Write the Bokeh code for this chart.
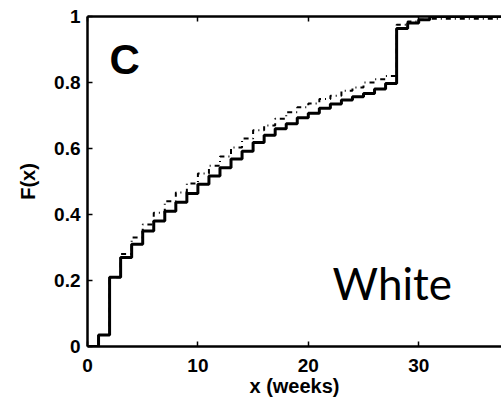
from bokeh.plotting import figure
from bokeh.models import LinearAxis, FixedTicker, Range1d, Label
from bokeh.embed import file_html
from bokeh.resources import INLINE

weeks = list(range(0, 39))
cdf_solid = [0.0, 0.035, 0.21, 0.27, 0.31, 0.35, 0.38, 0.41, 0.437, 0.464,
             0.492, 0.517, 0.542, 0.568, 0.592, 0.618, 0.64, 0.66, 0.675, 0.693,
             0.707, 0.722, 0.735, 0.747, 0.757, 0.767, 0.78, 0.797, 0.964, 0.98,
             0.99, 1.0, 1.0, 1.0, 1.0, 1.0, 1.0, 1.0, 1.0]
cdf_dashed = [0.0, 0.035, 0.21, 0.28, 0.33, 0.37, 0.405, 0.44, 0.467, 0.494,
              0.524, 0.548, 0.576, 0.603, 0.63, 0.655, 0.67, 0.69, 0.71, 0.725,
              0.736, 0.75, 0.76, 0.775, 0.785, 0.80, 0.81, 0.82, 0.975, 0.985,
              0.99, 0.993, 0.993, 0.993, 0.993, 0.993, 0.993, 0.993, 0.993]
x_ticks = [0, 10, 20, 30]
x_tick_labels = ["0", "10", "20", "30"]
y_ticks = [0, 0.2, 0.4, 0.6, 0.8, 1]
y_tick_labels = ["0", "0.2", "0.4", "0.6", "0.8", "1"]

FONT = "Liberation Sans"

p = figure(width=501, height=404, output_backend="svg", toolbar_location=None,
           x_axis_location=None, y_axis_location=None,
           min_border_left=87, min_border_right=0, min_border_top=16,
           min_border_bottom=58)
p.x_range = Range1d(0, 37.5)
p.y_range = Range1d(0, 1)
p.outline_line_color = None
p.xgrid.visible = False
p.ygrid.visible = False
p.background_fill_color = "white"
p.border_fill_color = "white"

def style(ax, ticks, labels, show_labels=True):
    ax.ticker = FixedTicker(ticks=ticks)
    ax.major_label_overrides = {t: l for t, l in zip(ticks, labels)}
    ax.axis_line_width = 2.5
    ax.axis_line_color = "black"
    ax.major_tick_in = 5
    ax.major_tick_out = 0
    ax.major_tick_line_width = 1.5
    ax.minor_tick_line_color = None
    ax.major_label_text_font = FONT
    ax.major_label_text_font_style = "bold"
    ax.major_label_text_font_size = "19px"
    ax.major_label_text_color = "black" if show_labels else None
    ax.axis_label_text_font = FONT
    ax.axis_label_text_font_style = "bold"
    ax.axis_label_text_font_size = "20px"
    ax.axis_label_text_color = "black"

xb = LinearAxis(axis_label="x (weeks)")
style(xb, x_ticks, x_tick_labels)
xb.major_label_standoff = 12
xb.axis_label_standoff = 0
p.add_layout(xb, "below")

xt = LinearAxis()
style(xt, x_ticks, x_tick_labels, show_labels=False)
xt.major_label_standoff = 0
p.add_layout(xt, "above")

yl = LinearAxis(axis_label="F(x)")
style(yl, y_ticks, y_tick_labels)
yl.major_label_standoff = 7
yl.axis_label_standoff = 12
p.add_layout(yl, "left")

p.step(weeks, cdf_dashed, mode="after", line_color="black", line_width=2,
       line_dash="5 4 1 4")
p.step(weeks, cdf_solid, mode="after", line_color="black", line_width=3)

p.add_layout(Label(x=2.0, y=0.797, text="C", text_font=FONT,
                   text_font_style="bold", text_font_size="42px",
                   text_color="black"))
p.add_layout(Label(x=22.2, y=0.115, text="White", text_font="Lato",
                   text_font_size="44px", text_color="black"))

open("out.html", "w").write(file_html(p, INLINE))
